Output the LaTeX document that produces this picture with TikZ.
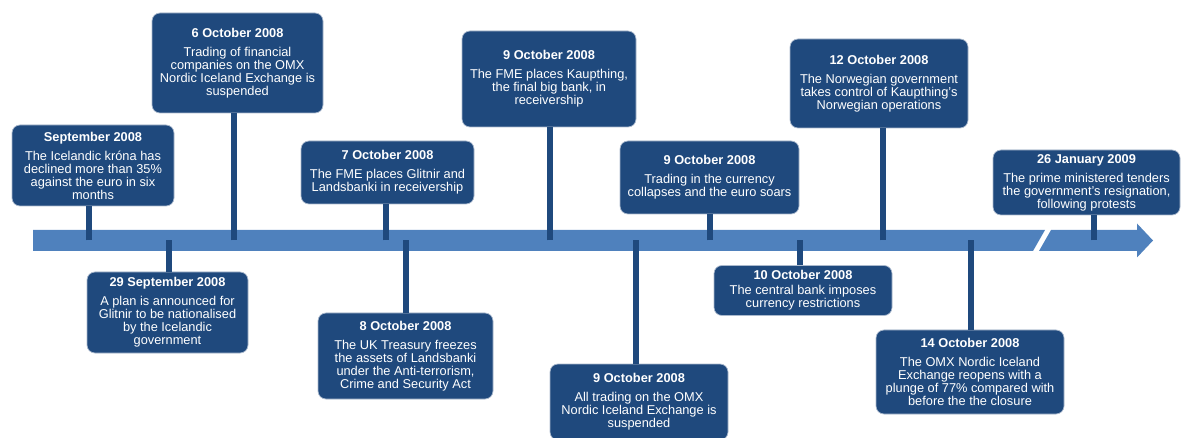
\documentclass[tikz,border=0pt]{standalone}
\usepackage{fontspec}
\setmainfont{Liberation Sans}
\usepackage{xcolor}
\definecolor{crisisBlue}{RGB}{31, 73, 125}
\definecolor{lineBlue}{RGB}{79, 129, 189}
\definecolor{edgeBlue}{RGB}{170, 185, 205}

\tikzset{
  event/.style={fill=crisisBlue, draw=edgeBlue, line width=0.7pt, rounded corners=8pt,
    text=white, align=center, inner sep=0pt,
    font=\fontsize{12.8}{13}\selectfont},
  stem/.style={crisisBlue, line width=6pt}
}

\begin{document}
\begin{tikzpicture}[x=1pt, y=-1pt]
    \useasboundingbox (0,0) rectangle (1186,438);
    \clip (0,0) rectangle (1186,438);

    % the time line, broken near the end
    \fill[lineBlue] (33,230) -- (1045,230) -- (1033,251) -- (33,251) -- cycle;
    \fill[lineBlue] (1051,230) -- (1137,230) -- (1137,223.5) -- (1153,240.5) -- (1137,257.5) -- (1137,251) -- (1039,251) -- cycle;

    \coordinate (t1) at (89,240.5);
    \coordinate (t2) at (169,240.5);
    \coordinate (t3) at (234,240.5);
    \coordinate (t4) at (386,240.5);
    \coordinate (t5) at (406,240.5);
    \coordinate (t6) at (550,240.5);
    \coordinate (t7) at (636,240.5);
    \coordinate (t8) at (710,240.5);
    \coordinate (t9) at (800,240.5);
    \coordinate (t10) at (883,240.5);
    \coordinate (t11) at (971,240.5);
    \coordinate (t12) at (1094,240.5);

    % events above the line
    \node[event, minimum width=162, minimum height=81] (sep) at (93,165.5)
        {\textbf{September 2008}\\[6pt]The Icelandic króna has\\declined more than 35\%\\against the euro in six\\months};
    \node[event, minimum width=171, minimum height=100] (oct6) at (237.5,63)
        {\textbf{6 October 2008}\\[6pt]Trading of financial\\companies on the OMX\\Nordic Iceland Exchange is\\suspended};
    \node[event, minimum width=173, minimum height=63] (oct7) at (387.5,172.5)
        {\textbf{7 October 2008}\\[6pt]The FME places Glitnir and\\Landsbanki in receivership};
    \node[event, minimum width=174, minimum height=96] (oct9a) at (549,79)
        {\textbf{9 October 2008}\\[6pt]The FME places Kaupthing,\\the final big bank, in\\receivership};
    \node[event, minimum width=179, minimum height=73] (oct9c) at (709.5,177.5)
        {\textbf{9 October 2008}\\[6pt]Trading in the currency\\collapses and the euro soars};
    \node[event, minimum width=178, minimum height=89] (oct12) at (879,83.5)
        {\textbf{12 October 2008}\\[6pt]The Norwegian government\\takes control of Kaupthing's\\Norwegian operations};
    \node[event, minimum width=187, minimum height=65] (jan) at (1086.5,182.5)
        {\textbf{26 January 2009}\\[6pt]The prime ministered tenders\\the government's resignation,\\following protests};

    % events below the line
    \node[event, minimum width=161, minimum height=81] (sep29) at (167.5,312.5)
        {\textbf{29 September 2008}\\[6pt]A plan is announced for\\Glitnir to be nationalised\\by the Icelandic\\government};
    \node[event, minimum width=175, minimum height=86] (oct8) at (405.5,356)
        {\textbf{8 October 2008}\\[6pt]The UK Treasury freezes\\the assets of Landsbanki\\under the Anti-terrorism,\\Crime and Security Act};
    \node[event, minimum width=178, minimum height=76] (oct9b) at (639,402)
        {\textbf{9 October 2008}\\[6pt]All trading on the OMX\\Nordic Iceland Exchange is\\suspended};
    \node[event, minimum width=178, minimum height=50] (oct10) at (803,290.5)
        {\textbf{10 October 2008}\\[2pt]The central bank imposes\\currency restrictions};
    \node[event, minimum width=188, minimum height=84] (oct14) at (970,372)
        {\textbf{14 October 2008}\\[6pt]The OMX Nordic Iceland\\Exchange reopens with a\\plunge of 77\% compared with\\before the the closure};

    % stems from the line to the boxes
    \draw[stem] (t1) -- (t1 |- sep.south);
    \draw[stem] (t2) -- (t2 |- sep29.north);
    \draw[stem] (t3) -- (t3 |- oct6.south);
    \draw[stem] (t4) -- (t4 |- oct7.south);
    \draw[stem] (t5) -- (t5 |- oct8.north);
    \draw[stem] (t6) -- (t6 |- oct9a.south);
    \draw[stem] (t7) -- (t7 |- oct9b.north);
    \draw[stem] (t8) -- (t8 |- oct9c.south);
    \draw[stem] (t9) -- (t9 |- oct10.north);
    \draw[stem] (t10) -- (t10 |- oct12.south);
    \draw[stem] (t11) -- (t11 |- oct14.north);
    \draw[stem] (t12) -- (t12 |- jan.south);
\end{tikzpicture}
\end{document}
